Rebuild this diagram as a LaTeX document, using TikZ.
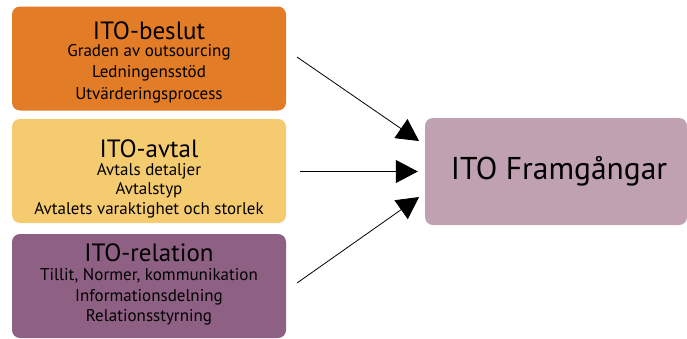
\documentclass[tikz,border=0pt]{standalone}
\usepackage{fontspec}
\setmainfont{PT Sans}
\usetikzlibrary{arrows.meta}

\definecolor{beslutorange}{RGB}{226,124,38}
\definecolor{avtalgul}{RGB}{245,203,112}
\definecolor{relationlila}{RGB}{142,96,131}
\definecolor{framgangrosa}{RGB}{192,161,177}

\newcommand{\boxtitle}[1]{{\fontsize{25}{26}\selectfont #1}}

\begin{document}
\begin{tikzpicture}[x=1pt, y=-1pt,
  factor/.style={rectangle, rounded corners=8pt, minimum width=274pt, minimum height=104pt, inner sep=0pt},
  factortext/.style={anchor=north, inner sep=0pt, align=center, font=\fontsize{17}{21.5}\selectfont},
  result/.style={rectangle, rounded corners=8pt, minimum width=262pt, minimum height=107pt, inner sep=0pt, font=\fontsize{31.5}{34}\selectfont},
  arrow/.style={-{Triangle[length=22pt,width=23pt]}, line width=0.8pt, shorten >=7pt}
]
\useasboundingbox (0,0) rectangle (687,338);

% Factor boxes
\node[factor, fill=beslutorange] (beslut) at (149,58.5) {};
\node[factortext] (beslut-text) at ([yshift=-15pt]beslut.north) {\boxtitle{ITO-beslut}\\[-4.5pt] Graden av outsourcing\\ Ledningensstöd\\ Utvärderingsprocess};

\node[factor, fill=avtalgul] (avtal) at (149,171) {};
\node[factortext, font=\fontsize{17}{19.5}\selectfont] (avtal-text) at ([yshift=-20.5pt]avtal.north) {\boxtitle{ITO-avtal}\\[-1.5pt] Avtals detaljer\\ Avtalstyp\\ Avtalets varaktighet och storlek};

\node[factor, fill=relationlila] (relation) at (149,286) {};
\node[factortext, font=\fontsize{17}{20.5}\selectfont] (relation-text) at ([yshift=-9.5pt]relation.north) {\boxtitle{ITO-relation}\\[-1pt] Tillit, Normer, kommunikation\\ Informationsdelning\\ Relationsstyrning};

% Result box
\node[result, fill=framgangrosa] (framgang) at (556,171.5) {\hspace{6pt}ITO Framgångar};

% Arrows
\coordinate (s1) at (297,57);
\coordinate (s2) at (300,171.5);
\coordinate (s3) at (297,283);
\draw[arrow] (s1) -- ([yshift=26.5pt]framgang.west);
\draw[arrow] (s2) -- (framgang.west);
\draw[arrow] (s3) -- ([yshift=-21.5pt]framgang.west);

\end{tikzpicture}
\end{document}
